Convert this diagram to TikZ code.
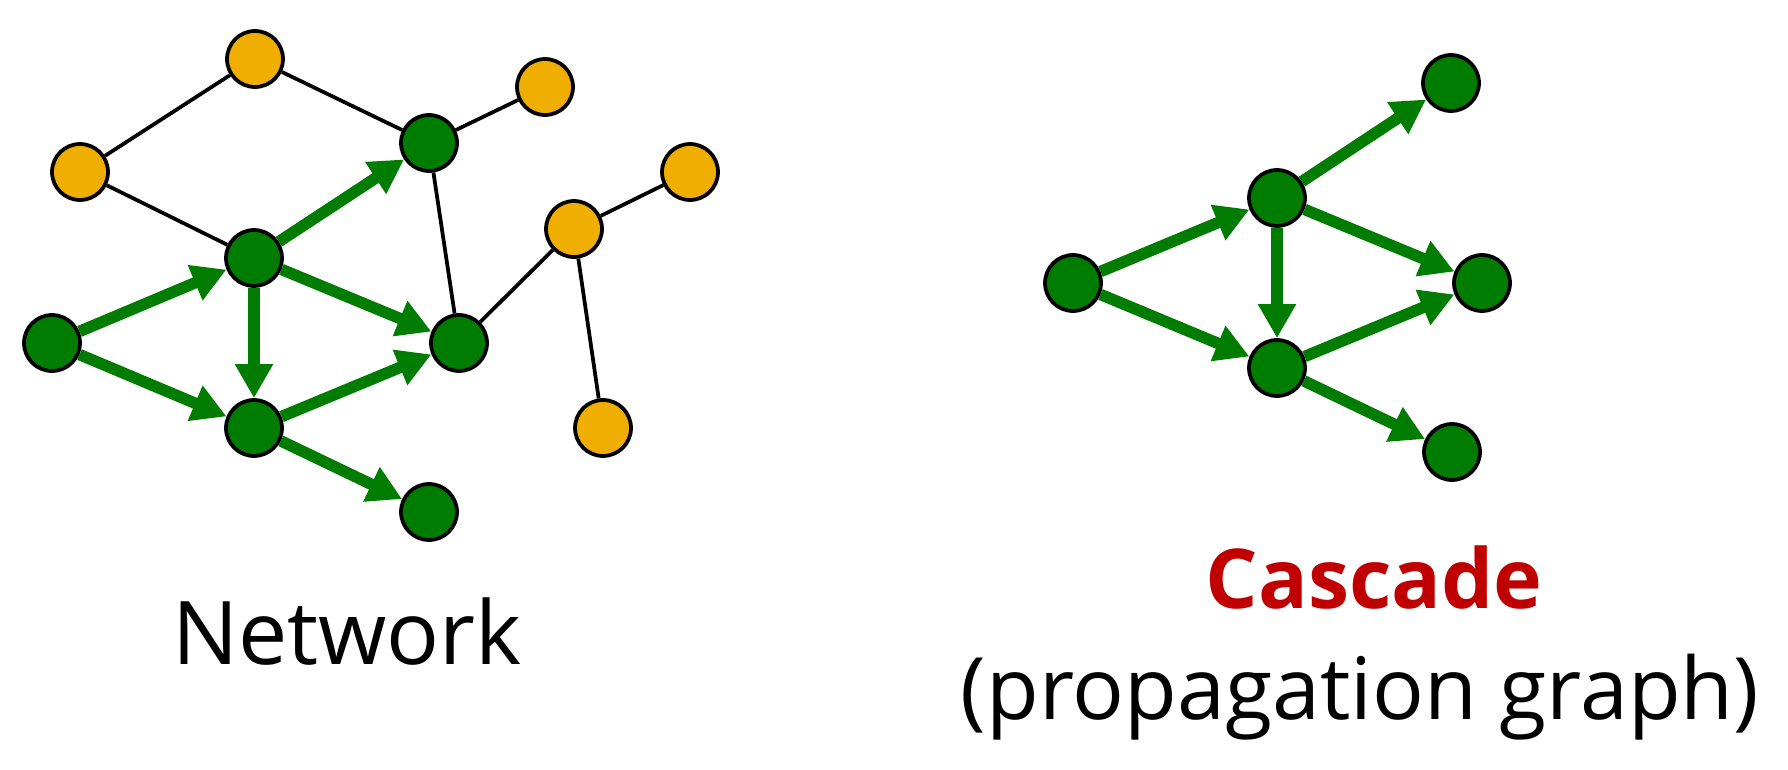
\documentclass[tikz,border=0pt]{standalone}
\usepackage{fontspec}
\setmainfont{Open Sans}
\usepackage[dvipsnames, svgnames]{xcolor}
\usetikzlibrary{arrows.meta, positioning}
\definecolor{ActiveGreen}{HTML}{007C00}
\definecolor{IdleGold}{HTML}{F0AE00}
\definecolor{TitleRed}{HTML}{C00000}
\tikzset{
  vertex/.style={circle, draw=black, line width=0.075cm, minimum size=1.12cm, inner sep=0pt},
  active/.style={vertex, fill=ActiveGreen},
  idle/.style={vertex, fill=IdleGold},
  link/.style={draw=black, line width=0.075cm},
  spread/.style={draw=ActiveGreen, line width=0.23cm, -{Triangle[length=0.68cm, width=0.72cm]}},
  caption/.style={anchor=base, inner sep=0pt, font=\fontsize{50}{60}\selectfont}
}
\begin{document}
\begin{tikzpicture}[x=0.02cm, y=-0.02cm]
  \useasboundingbox (0,0) rectangle (1788,770);
  % network: pixel coordinates, y grows downwards
  \node[idle]   (n1) at (255,59)  {};
  \node[idle]   (n2) at (80,172)  {};
  \node[idle]   (n3) at (545,87)  {};
  \node[idle]   (n4) at (690,172) {};
  \node[idle]   (n5) at (574,229) {};
  \node[idle]   (n6) at (603,428) {};
  \node[active] (a1) at (52,343)  {};
  \node[active] (a2) at (254,258) {};
  \node[active] (a3) at (429,143) {};
  \node[active] (a4) at (254,428) {};
  \node[active] (a5) at (459,343) {};
  \node[active] (a6) at (429,512) {};
  \draw[link] (n2) -- (n1);
  \draw[link] (n1) -- (a3);
  \draw[link] (a3) -- (n3);
  \draw[link] (n2) -- (a2);
  \draw[link] (a3) -- (a5);
  \draw[link] (a5) -- (n5);
  \draw[link] (n5) -- (n4);
  \draw[link] (n5) -- (n6);
  \foreach \from/\to in {a1/a2, a1/a4, a2/a3, a2/a5, a2/a4, a4/a5, a4/a6}
    \draw[spread] (\from) -- (\to);
  \node[caption] (net) at (347,664) {Network};

  % cascade
  \node[active] (c1) at (1073,283) {};
  \node[active] (c2) at (1277,198) {};
  \node[active] (c3) at (1277,368) {};
  \node[active] (c4) at (1451,83)  {};
  \node[active] (c5) at (1482,283) {};
  \node[active] (c6) at (1452,452) {};
  \foreach \from/\to in {c1/c2, c1/c3, c2/c3, c2/c4, c2/c5, c3/c5, c3/c6}
    \draw[spread] (\from) -- (\to);
  \node[caption, font=\fontsize{47}{56}\selectfont\bfseries, text=TitleRed] (casc) at (1374,608) {Cascade};
  \node[caption, font=\fontsize{49}{58}\selectfont] (prop) at (1360,719) {(propagation graph)};
\end{tikzpicture}
\end{document}
